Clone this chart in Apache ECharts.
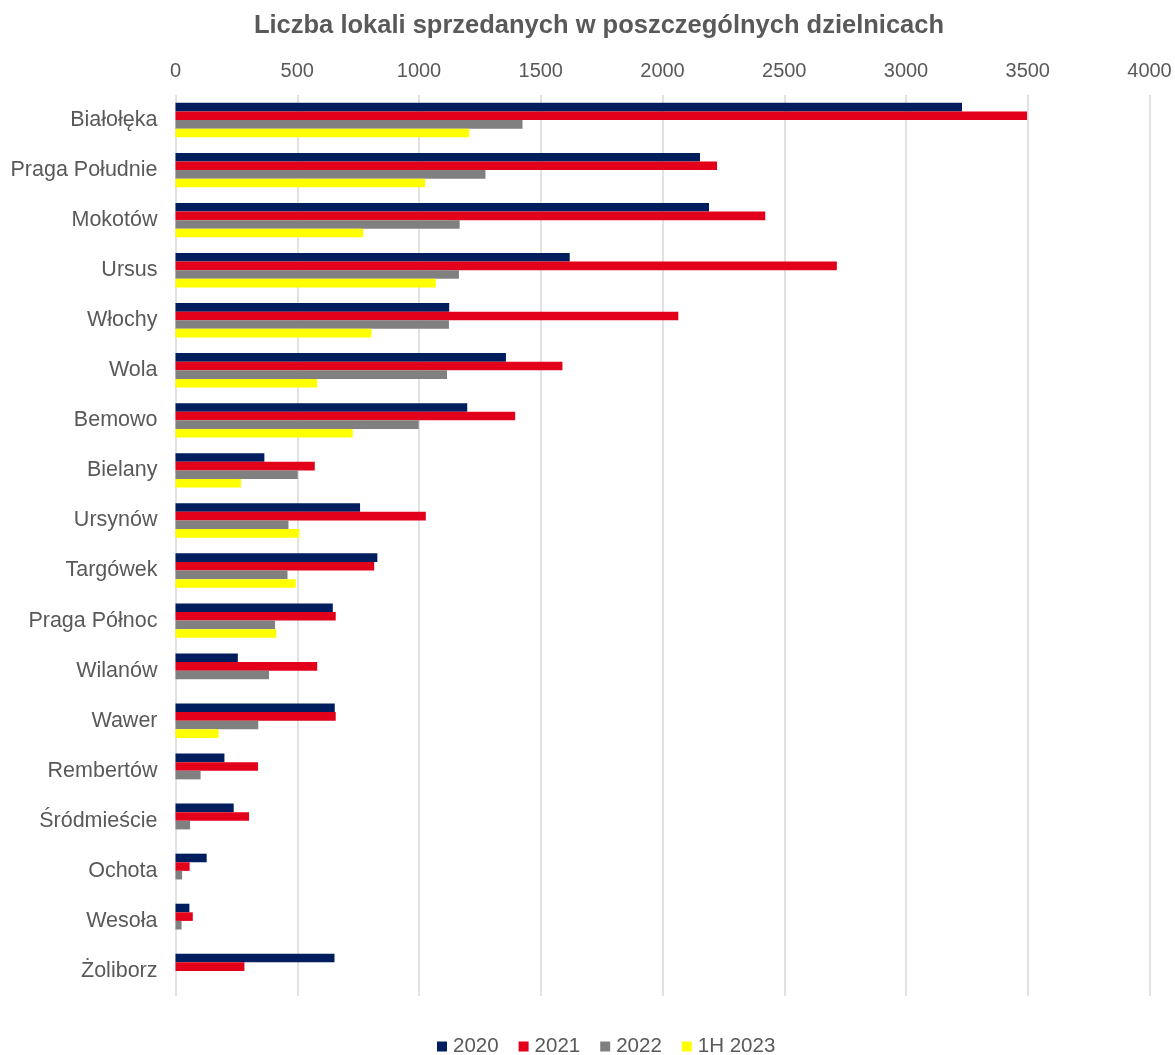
<!DOCTYPE html>
<html>
<head>
<meta charset="utf-8">
<script src="https://cdn.jsdelivr.net/npm/echarts@6/dist/echarts.min.js"></script>
<style>
html,body{margin:0;padding:0;background:#fff;}
#chart{width:1175px;height:1055px;}
</style>
</head>
<body>
<div id="chart"></div>
<script>
const categories = ['Białołęka','Praga Południe','Mokotów','Ursus','Włochy','Wola','Bemowo','Bielany','Ursynów','Targówek','Praga Północ','Wilanów','Wawer','Rembertów','Śródmieście','Ochota','Wesoła','Żoliborz'];
const s2020 = [3230,2154,2191,1619,1124,1357,1198,365,758,829,646,256,654,201,239,128,57,653];
const s2021 = [3497,2224,2422,2716,2065,1589,1395,572,1028,816,658,582,658,339,302,58,71,283];
const s2022 = [1425,1273,1167,1164,1123,1115,999,502,464,460,409,384,340,103,60,27,25,0];
const s1H2023 = [1206,1025,771,1069,805,582,728,269,508,494,414,0,177,0,0,0,0,0];
const seriesNames = ['2020','2021','2022','1H 2023'];
const xTicks = [0,500,1000,1500,2000,2500,3000,3500,4000];

const colors = ['#001D5E','#E2001A','#808080','#FFFF00'];
const chart = echarts.init(document.getElementById('chart'));
const font = 'Liberation Sans, Arial, sans-serif';
const mk = (name, data, i) => ({
  name, type:'bar', data, barWidth: 8.6, barGap:'0%',
  itemStyle:{color:colors[i]}
});
chart.setOption({
  animation:false,
  color: colors,
  title:{
    text:'Liczba lokali sprzedanych w poszczególnych dzielnicach',
    left:594, textAlign:'center', top:8,
    textStyle:{fontFamily:font, fontSize:25.5, fontWeight:'bold', color:'#595959'}
  },
  legend:{
    top:1031, left:432, itemWidth:10, itemHeight:10, itemGap:20,
    icon:'rect',
    textStyle:{fontFamily:font, fontSize:20.5, color:'#595959', padding:[0,0,0,1]},
    data: seriesNames
  },
  grid:{left:175.5, right:25.5, top:95, bottom:59, containLabel:false},
  xAxis:{
    type:'value', position:'top', min:xTicks[0], max:xTicks[xTicks.length-1], interval:500,
    axisLine:{show:false}, axisTick:{show:false},
    axisLabel:{fontFamily:font, fontSize:20, color:'#595959', margin:14, formatter:(v)=>String(v)},
    splitLine:{show:true, lineStyle:{color:'#D9D9D9', width:1.5}}
  },
  yAxis:{
    type:'category', data:categories, inverse:true,
    axisLine:{show:false}, axisTick:{show:false},
    axisLabel:{fontFamily:font, fontSize:21.5, color:'#595959', margin:18}
  },
  series:[mk(seriesNames[0],s2020,0),mk(seriesNames[1],s2021,1),mk(seriesNames[2],s2022,2),mk(seriesNames[3],s1H2023,3)]
});
</script>
</body>
</html>
